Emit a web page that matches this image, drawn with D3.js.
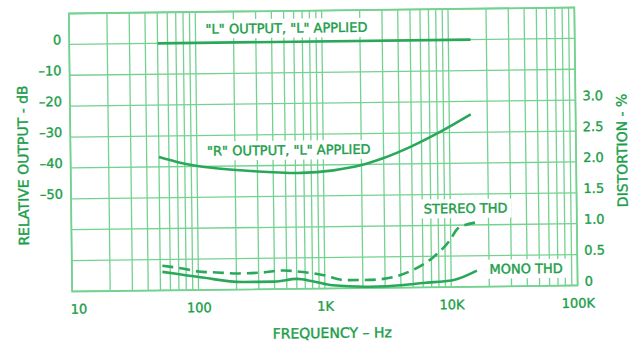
<!DOCTYPE html>
<html>
<head>
<meta charset="utf-8">
<script src="https://cdn.jsdelivr.net/npm/d3@7"></script>
<style>
  body { margin: 0; background: #fff; }
  svg { display: block; font-family: "DejaVu Sans", sans-serif; }
</style>
</head>
<body>
<svg id="chart" width="636" height="342"></svg>
<script>
// Tick labels of the three axes
const freqTicks = [10, 100, 1000, 10000, 100000];
const freqTickLabels = ['10', '100', '1K', '10K', '100K'];
const dbTicks = [0, -10, -20, -30, -40, -50];
const thdTicks = [0, 0.5, 1.0, 1.5, 2.0, 2.5, 3.0];

// "L" output, "L" applied (dB)
const lFreq = [50, 15000];
const lDb = [0, 0];

// "R" output, "L" applied (dB)
const rFreq = [50, 75, 130, 270, 670, 1200, 2000, 3000, 4900, 8500, 14800];
const rDb = [-36.8, -38.8, -40.5, -41.7, -42.5, -41.8, -40.2, -38, -34.5, -29.7, -24.2];

// Stereo THD (%)
const stereoFreq = [52, 75, 100, 140, 210, 320, 465, 670, 960, 1460, 2260, 3450, 4960, 7100, 9800, 11500, 16000];
const stereoThd = [0.40, 0.35, 0.30, 0.28, 0.26, 0.27, 0.30, 0.27, 0.22, 0.13, 0.13, 0.17, 0.28, 0.47, 0.75, 0.95, 1.04];

// Mono THD (%)
const monoFreq = [52, 75, 108, 225, 400, 600, 800, 1150, 2260, 4200, 6000, 10300, 16000];
const monoThd = [0.30, 0.25, 0.20, 0.12, 0.12, 0.16, 0.12, 0.05, 0.02, 0.04, 0.07, 0.11, 0.26];

// Plot box and look of the scanned sheet
const boxLeft = 70.5, boxRight = 576, boxTop = 10.5, boxBottom = 288.5;
const tilt = -0.68; // the scan sits slightly rotated
const gridColor = '#74d290';
const curveColor = '#2aa85a';
const textColor = '#1a9e48';

const svg = d3.select('#chart');
const g = svg.append('g').attr('transform', `rotate(${tilt}, 322, 150)`);

const x = d3.scaleLog().domain([10, 100000]).range([boxLeft, boxRight]);
const yDb = d3.scaleLinear().domain([-80, 10]).range([boxBottom, boxTop]);
const yThd = d3.scaleLinear().domain([0, 4.5]).range([boxBottom, boxTop]);

// Grid: every 1..9 of each decade, every 10 dB
g.append('g')
  .selectAll('line')
  .data(x.ticks())
  .join('line')
  .attr('x1', d => x(d)).attr('x2', d => x(d))
  .attr('y1', boxTop).attr('y2', boxBottom)
  .style('stroke', gridColor)
  .style('stroke-width', 1.3);

g.append('g')
  .selectAll('line')
  .data(d3.range(-80, 11, 10))
  .join('line')
  .attr('x1', boxLeft).attr('x2', boxRight)
  .attr('y1', d => yDb(d)).attr('y2', d => yDb(d))
  .style('stroke', gridColor)
  .style('stroke-width', 1.3);

g.append('rect')
  .attr('x', boxLeft).attr('y', boxTop)
  .attr('width', boxRight - boxLeft).attr('height', boxBottom - boxTop)
  .style('fill', 'none')
  .style('stroke', gridColor)
  .style('stroke-width', 1.8);

// Axes, only their labels are kept
const bottomAxis = g.append('g')
  .attr('transform', `translate(0, ${boxBottom})`)
  .call(d3.axisBottom(x).tickValues(freqTicks).tickFormat((d, i) => freqTickLabels[i]).tickSize(0).tickPadding(13));

const leftAxis = g.append('g')
  .attr('transform', `translate(${boxLeft - 8}, 0)`)
  .call(d3.axisLeft(yDb).tickValues(dbTicks).tickFormat(d => d === 0 ? '0' : '\u2013' + Math.abs(d)).tickSize(0).tickPadding(0));

const rightAxis = g.append('g')
  .attr('transform', `translate(${boxRight + 7}, 0)`)
  .call(d3.axisRight(yThd).tickValues(thdTicks).tickFormat(d => d === 0 ? '0' : d3.format('.1f')(d)).tickSize(0).tickPadding(0));

[bottomAxis, leftAxis, rightAxis].forEach(a => {
  a.select('.domain').remove();
  a.selectAll('text')
    .style('font-family', '"DejaVu Sans", sans-serif')
    .style('font-size', '13px')
    .style('fill', textColor)
    .style('stroke', textColor)
    .style('stroke-width', 0.35);
});
leftAxis.selectAll('text').attr('dy', '-0.05em');
rightAxis.selectAll('text').attr('dy', '-0.02em');
bottomAxis.selectAll('text').filter(d => d === 10).attr('dx', 6);

// Curves
const line = (xs, ys, yScale) => d3.line()
  .x(i => x(xs[i]))
  .y(i => yScale(ys[i]))
  .curve(d3.curveMonotoneX)(d3.range(xs.length));

const curves = [
  { xs: lFreq, ys: lDb, scale: yDb, dash: null },
  { xs: rFreq, ys: rDb, scale: yDb, dash: null },
  { xs: stereoFreq, ys: stereoThd, scale: yThd, dash: '11 6' },
  { xs: monoFreq, ys: monoThd, scale: yThd, dash: null },
];

curves.forEach(c => {
  g.append('path')
    .attr('d', line(c.xs, c.ys, c.scale))
    .style('fill', 'none')
    .style('stroke', curveColor)
    .style('stroke-width', 2.6)
    .style('stroke-dasharray', c.dash);
});

// Curve captions sit on white patches that hide the grid
const captions = [
  { text: '"L" OUTPUT, "L" APPLIED', x: 207, y: 27.6 },
  { text: '"R" OUTPUT, "L" APPLIED', x: 207, y: 149.6 },
  { text: 'STEREO THD', x: 423, y: 210 },
  { text: 'MONO THD', x: 488, y: 271 },
];

captions.forEach(c => {
  const cg = g.append('g');
  const t = cg.append('text')
    .attr('x', c.x)
    .attr('y', c.y + 4.7)
    .style('font-size', '13px')
    .style('fill', textColor)
    .style('stroke', textColor)
    .style('stroke-width', 0.4)
    .text(c.text);
  const b = t.node().getBBox();
  cg.insert('rect', 'text')
    .attr('x', b.x - 4).attr('y', b.y - 2)
    .attr('width', b.width + 8).attr('height', b.height + 4)
    .style('fill', '#fff');
});

// Axis titles
const titles = [
  { text: 'RELATIVE OUTPUT - dB', transform: 'translate(28, 162) rotate(-90)' },
  { text: 'DISTORTION - %', transform: 'translate(627, 154) rotate(-90)' },
  { text: 'FREQUENCY \u2013 Hz', transform: 'translate(330, 338)' },
];

titles.forEach(t => {
  g.append('text')
    .attr('transform', t.transform)
    .attr('text-anchor', 'middle')
    .style('font-size', '14px')
    .style('fill', textColor)
    .style('stroke', textColor)
    .style('stroke-width', 0.4)
    .text(t.text);
});
</script>
</body>
</html>
